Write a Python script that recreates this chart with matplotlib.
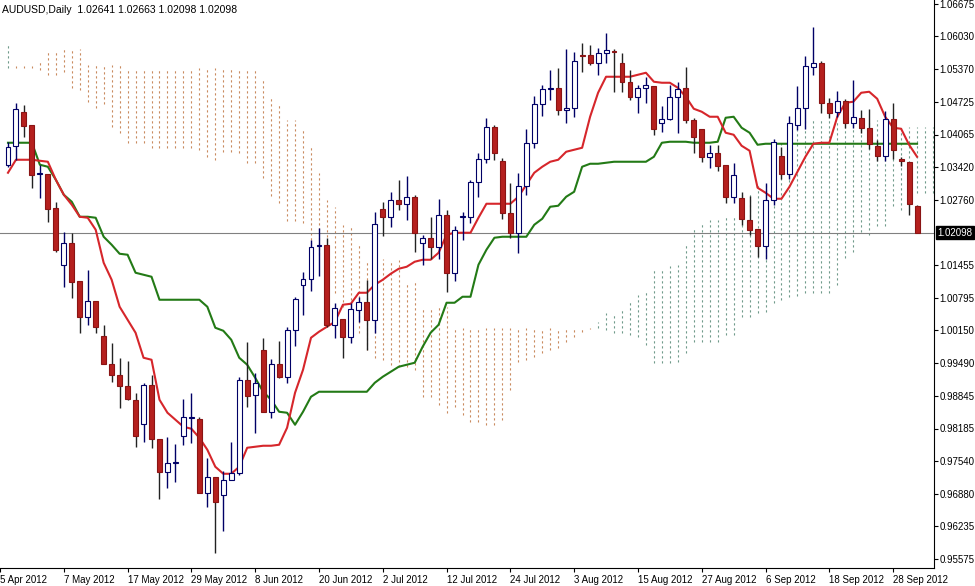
import matplotlib
matplotlib.use("Agg")
import matplotlib.pyplot as plt
import numpy as np

plt.rcParams['font.family'] = ['Liberation Sans', 'DejaVu Sans']

# OHLC diario AUDUSD
opens = [1.0346,1.0384,1.0452,1.0426,1.0328,1.0328,1.0260,1.0146,1.0190,1.0114,
         1.0042,1.0074,1.0004,0.9948,0.9926,0.9904,0.9876,0.9828,0.9906,0.9798,
         0.9732,0.9750,0.9804,0.9840,0.9838,0.9690,0.9722,0.9686,0.9716,0.9730,
         0.9916,0.9886,0.9976,0.9852,0.9948,0.9922,1.0016,1.0106,1.0118,1.0184,
         1.0186,1.0026,1.0038,1.0002,1.0056,1.0072,1.0036,1.0258,1.0242,1.0276,
         1.0268,1.0282,1.0190,1.0200,1.0182,1.0246,1.0130,1.0242,1.0242,1.0312,
         1.0358,1.0422,1.0354,1.0250,1.0210,1.0304,1.0390,1.0468,1.0498,1.0500,
         1.0456,1.0460,1.0566,1.0566,1.0550,1.0570,1.0574,1.0550,1.0512,1.0482,
         1.0500,1.0504,1.0430,1.0438,1.0482,1.0500,1.0436,1.0418,1.0362,1.0370,
         1.0346,1.0282,1.0280,1.0236,1.0218,1.0184,1.0276,1.0364,1.0328,1.0426,
         1.0460,1.0542,1.0550,1.0470,1.0452,1.0474,1.0430,1.0440,1.0420,1.0384,
         1.0364,1.0438,1.0358,1.0352,1.02641]
highs = [1.0392,1.0470,1.0466,1.0426,1.0346,1.0328,1.0272,1.0212,1.0210,1.0114,
         1.0136,1.0074,1.0026,0.9990,0.9960,0.9954,0.9890,0.9910,0.9926,0.9798,
         0.9802,0.9788,0.9878,0.9890,0.9842,0.9760,0.9722,0.9734,0.9792,0.9922,
         0.9992,0.9930,1.0000,0.9958,0.9994,1.0022,1.0082,1.0132,1.0196,1.0220,
         1.0200,1.0070,1.0038,1.0070,1.0082,1.0116,1.0252,1.0272,1.0292,1.0316,
         1.0324,1.0286,1.0206,1.0242,1.0278,1.0256,1.0224,1.0252,1.0316,1.0370,
         1.0440,1.0426,1.0360,1.0310,1.0330,1.0418,1.0484,1.0506,1.0536,1.0540,
         1.0578,1.0572,1.0590,1.0586,1.0580,1.0610,1.0578,1.0570,1.0536,1.0506,
         1.0522,1.0504,1.0464,1.0506,1.0512,1.0542,1.0440,1.0418,1.0386,1.0386,
         1.0346,1.0350,1.0292,1.0284,1.0218,1.0310,1.0398,1.0382,1.0444,1.0504,
         1.0564,1.0622,1.0554,1.0480,1.0494,1.0478,1.0516,1.0456,1.0458,1.0396,
         1.0454,1.0470,1.0362,1.0352,1.02663]
lows = [1.0342,1.0356,1.0402,1.0300,1.0280,1.0232,1.0172,1.0102,1.0080,1.0010,
        1.0026,1.0010,0.9948,0.9912,0.9860,0.9876,0.9782,0.9792,0.9780,0.9678,
        0.9700,0.9712,0.9786,0.9790,0.9690,0.9662,0.9570,0.9614,0.9716,0.9726,
        0.9862,0.9810,0.9852,0.9840,0.9920,0.9910,0.9984,1.0046,1.0094,1.0124,
        1.0022,1.0000,0.9960,0.9990,1.0032,0.9976,1.0010,1.0204,1.0222,1.0256,
        1.0236,1.0172,1.0146,1.0158,1.0158,1.0092,1.0114,1.0196,1.0230,1.0282,
        1.0350,1.0356,1.0238,1.0200,1.0170,1.0286,1.0380,1.0444,1.0476,1.0446,
        1.0430,1.0442,1.0532,1.0546,1.0526,1.0550,1.0492,1.0492,1.0476,1.0450,
        1.0470,1.0406,1.0412,1.0436,1.0410,1.0430,1.0370,1.0352,1.0340,1.0334,
        1.0270,1.0270,1.0226,1.0206,1.0162,1.0158,1.0266,1.0318,1.0318,1.0416,
        1.0418,1.0526,1.0450,1.0440,1.0442,1.0420,1.0420,1.0410,1.0378,1.0354,
        1.0354,1.0358,1.0344,1.0246,1.02098]
closes = [1.0382,1.0458,1.0424,1.0326,1.0328,1.0258,1.0176,1.0190,1.0112,1.0042,
          1.0074,1.0022,0.9948,0.9926,0.9904,0.9878,0.9804,0.9906,0.9798,0.9732,
          0.9750,0.9752,0.9842,0.9842,0.9690,0.9722,0.9672,0.9716,0.9730,0.9916,
          0.9884,0.9910,0.9852,0.9948,0.9922,1.0016,1.0078,1.0118,1.0182,1.0186,
          1.0026,1.0060,1.0002,1.0058,1.0072,1.0036,1.0228,1.0242,1.0276,1.0268,
          1.0282,1.0210,1.0200,1.0182,1.0246,1.0130,1.0216,1.0244,1.0312,1.0358,
          1.0422,1.0370,1.0250,1.0210,1.0304,1.0390,1.0468,1.0498,1.0500,1.0456,
          1.0460,1.0554,1.0564,1.0550,1.0570,1.0576,1.0572,1.0512,1.0482,1.0500,
          1.0506,1.0418,1.0438,1.0482,1.0498,1.0436,1.0402,1.0362,1.0370,1.0344,
          1.0282,1.0326,1.0238,1.0216,1.0184,1.0276,1.0392,1.0328,1.0430,1.0460,
          1.0544,1.0550,1.0470,1.0450,1.0474,1.0430,1.0442,1.0420,1.0388,1.0364,
          1.0438,1.0376,1.0354,1.0268,1.02098]

# Ichimoku
tenkan = [1.0330,1.0356,1.0356,1.0356,1.0354,1.0352,1.0316,1.0286,1.0266,1.0242,
          1.0240,1.0216,1.0150,1.0116,1.0062,1.0036,1.0010,0.9960,0.9956,0.9876,
          0.9850,0.9836,0.9822,0.9818,0.9800,0.9776,0.9742,0.9728,0.9728,0.9742,
          0.9780,0.9782,0.9784,0.9784,0.9786,0.9820,0.9890,0.9936,1.0000,1.0012,
          1.0022,1.0032,1.0066,1.0068,1.0090,1.0090,1.0106,1.0116,1.0128,1.0138,
          1.0142,1.0152,1.0156,1.0156,1.0170,1.0206,1.0210,1.0210,1.0210,1.0240,
          1.0268,1.0268,1.0268,1.0268,1.0282,1.0306,1.0330,1.0342,1.0352,1.0356,
          1.0372,1.0376,1.0380,1.0442,1.0490,1.0522,1.0522,1.0522,1.0522,1.0526,
          1.0530,1.0512,1.0510,1.0510,1.0500,1.0482,1.0458,1.0452,1.0442,1.0442,
          1.0410,1.0406,1.0384,1.0374,1.0300,1.0290,1.0278,1.0278,1.0302,1.0332,
          1.0362,1.0388,1.0390,1.0390,1.0442,1.0470,1.0472,1.0490,1.0492,1.0478,
          1.0442,1.0420,1.0418,1.0386,1.0362]
kijun = [1.0390,1.0390,1.0390,1.0390,1.0346,1.0342,1.0316,1.0286,1.0272,1.0242,
         1.0242,1.0240,1.0202,1.0186,1.0168,1.0166,1.0130,1.0126,1.0122,1.0076,
         1.0076,1.0076,1.0076,1.0076,1.0076,1.0062,1.0020,1.0014,0.9996,0.9960,
         0.9946,0.9920,0.9892,0.9876,0.9852,0.9850,0.9826,0.9852,0.9882,0.9892,
         0.9892,0.9892,0.9892,0.9892,0.9892,0.9892,0.9910,0.9922,0.9932,0.9942,
         0.9946,0.9950,0.9982,1.0010,1.0026,1.0070,1.0070,1.0082,1.0082,1.0146,
         1.0176,1.0200,1.0202,1.0202,1.0202,1.0202,1.0226,1.0238,1.0262,1.0264,
         1.0282,1.0292,1.0342,1.0348,1.0348,1.0350,1.0352,1.0352,1.0352,1.0352,
         1.0352,1.0362,1.0390,1.0392,1.0392,1.0392,1.0390,1.0390,1.0390,1.0392,
         1.0440,1.0442,1.0420,1.0410,1.0386,1.0388,1.0388,1.0388,1.0388,1.0388,
         1.0388,1.0388,1.0388,1.0388,1.0388,1.0388,1.0388,1.0388,1.0388,1.0388,
         1.0388,1.0388,1.0388,1.0388,1.0388]
span_a = [1.0590,1.0540,1.0540,1.0540,1.0536,1.0526,1.0526,1.0532,1.0500,1.0496,
          1.0472,1.0460,1.0468,1.0422,1.0410,1.0390,1.0390,1.0390,1.0380,1.0380,
          1.0380,1.0380,1.0380,1.0380,1.0376,1.0362,1.0356,1.0372,1.0372,1.0370,
          1.0350,1.0350,1.0320,1.0284,1.0270,1.0234,1.0234,1.0230,1.0186,1.0166,
          1.0102,1.0090,1.0062,1.0036,1.0010,0.9976,0.9960,0.9956,0.9946,0.9942,
          0.9942,0.9936,0.9882,0.9882,0.9866,0.9850,0.9862,0.9846,0.9832,0.9832,
          0.9826,0.9826,0.9836,0.9896,0.9952,0.9956,0.9962,0.9970,0.9976,0.9980,
          0.9992,1.0002,1.0012,1.0018,1.0032,1.0050,1.0050,1.0056,1.0072,1.0086,
          1.0096,1.0140,1.0140,1.0144,1.0146,1.0188,1.0222,1.0232,1.0236,1.0236,
          1.0242,1.0242,1.0290,1.0290,1.0310,1.0310,1.0392,1.0396,1.0416,1.0416,
          1.0436,1.0436,1.0436,1.0436,1.0436,1.0436,1.0436,1.0436,1.0436,1.0436,
          1.0436,1.0436,1.0422,1.0422,1.0422,1.0422,1.0422]
span_b = [1.0540,1.0544,1.0544,1.0544,1.0552,1.0576,1.0576,1.0578,1.0578,1.0578,
          1.0546,1.0546,1.0546,1.0546,1.0546,1.0540,1.0540,1.0540,1.0540,1.0540,
          1.0540,1.0540,1.0540,1.0540,1.0540,1.0540,1.0540,1.0540,1.0540,1.0540,
          1.0540,1.0540,1.0516,1.0480,1.0470,1.0436,1.0436,1.0416,1.0386,1.0330,
          1.0276,1.0262,1.0226,1.0224,1.0186,1.0156,1.0156,1.0158,1.0156,1.0156,
          1.0112,1.0112,1.0062,1.0062,1.0062,1.0062,1.0020,1.0020,1.0020,1.0020,
          1.0020,1.0020,1.0020,1.0020,1.0020,1.0020,1.0020,1.0020,1.0020,1.0020,
          1.0020,1.0020,1.0020,1.0020,1.0020,1.0016,1.0010,1.0010,1.0006,1.0002,
          0.9986,0.9950,0.9950,0.9950,0.9952,0.9970,0.9992,0.9992,0.9992,0.9992,
          1.0006,1.0006,1.0042,1.0042,1.0050,1.0052,1.0070,1.0076,1.0082,1.0084,
          1.0090,1.0090,1.0090,1.0090,1.0106,1.0160,1.0172,1.0212,1.0206,1.0224,
          1.0224,1.0264,1.0256,1.0290,1.0290,1.0290,1.0290]

date_ticks = [-1, 7, 15, 23, 31, 39, 47, 55, 63, 71, 79, 87, 95, 103, 111]
date_labels = ["5 Apr 2012", "7 May 2012", "17 May 2012", "29 May 2012", "8 Jun 2012",
               "20 Jun 2012", "2 Jul 2012", "12 Jul 2012", "24 Jul 2012", "3 Aug 2012",
               "15 Aug 2012", "27 Aug 2012", "6 Sep 2012", "18 Sep 2012", "28 Sep 2012"]
price_ticks = [1.06675, 1.06030, 1.05370, 1.04725, 1.04065, 1.03420, 1.02760,
               1.01455, 1.00795, 1.00150, 0.99490, 0.98845, 0.98185, 0.97540,
               0.96880, 0.96235, 0.95575]
last_price = 1.02098

fig = plt.figure(figsize=(9.75, 5.86), dpi=100)
ax = fig.add_axes([0, 18 / 586, 934 / 975, 568 / 586])

# nube (kumo) con lineas verticales punteadas
for i in range(len(span_a)):
    lo, hi = min(span_a[i], span_b[i]), max(span_a[i], span_b[i])
    col = "#6f9a8a" if span_a[i] > span_b[i] else "#c98a5e"
    ax.vlines(i, lo, hi, colors=col, linestyles=(0, (2, 2.5)), lw=0.8, zorder=1)

ax.axhline(last_price, color="#808080", lw=0.8, zorder=2)

x = np.arange(len(opens))
ax.plot(x, kijun, color="#237a16", lw=1.5, zorder=3)
ax.plot(x, tenkan, color="#d6262b", lw=1.5, zorder=3)

w = 0.62
for i in x:
    o, h, l, c = opens[i], highs[i], lows[i], closes[i]
    up = c >= o
    ax.vlines(i, l, h, colors="#000066" if up else "#222222", lw=1.0, zorder=4)
    body = max(abs(c - o), 0.00015)
    ax.add_patch(plt.Rectangle((i - w / 2, min(o, c)), w, body,
                               facecolor="white" if up else "#b5201e",
                               edgecolor="#000066" if up else "#8a1414", lw=0.8, zorder=5))

ax.set_xlim(-0.625, 116.125)
ax.set_ylim(0.95395, 1.06755)

for s in ["top", "left"]:
    ax.spines[s].set_visible(False)
ax.yaxis.tick_right()
ax.set_yticks(price_ticks)
ax.set_yticklabels([f"{p:.5f}" for p in price_ticks])
ax.set_xticks(date_ticks)
ax.set_xticklabels(date_labels, ha="left")
ax.tick_params(axis="both", labelsize=7, length=3, pad=1, direction="out")
ax.tick_params(axis="x", pad=2)

ax.text(1.004, last_price, f"{last_price:.5f}", transform=ax.get_yaxis_transform(),
        va="center", ha="left", fontsize=7, color="white",
        bbox=dict(boxstyle="square,pad=0.15", fc="black", ec="black"), zorder=6)

ax.text(0.002, 0.992, "AUDUSD,Daily  1.02641 1.02663 1.02098 1.02098",
        transform=ax.transAxes, va="top", ha="left", fontsize=7.5, color="black")

fig.savefig("out.png", dpi=100, facecolor="white")
